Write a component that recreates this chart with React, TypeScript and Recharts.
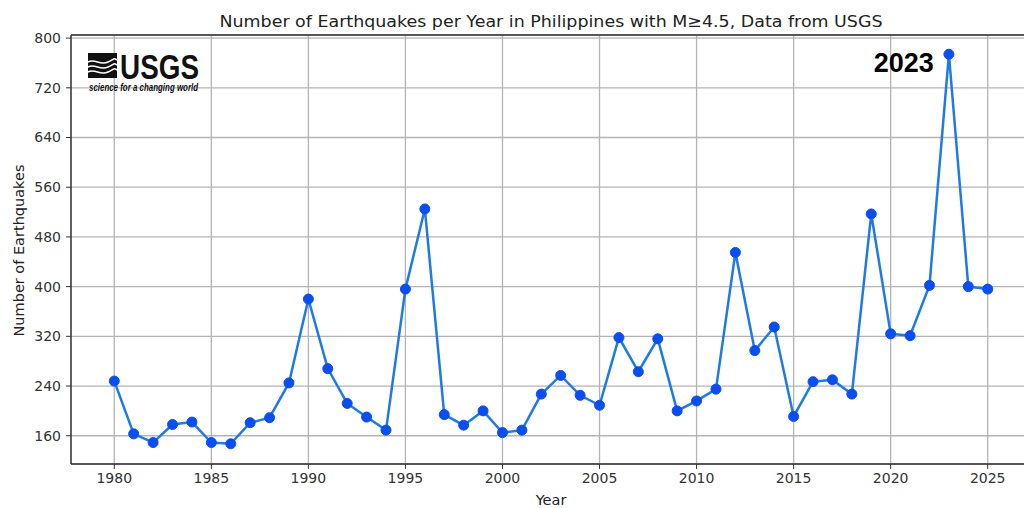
import React from 'react';
import { LineChart, Line, XAxis, YAxis, CartesianGrid, ReferenceLine, LabelList, Label } from 'recharts';

const years = [
  1980, 1981, 1982, 1983, 1984, 1985, 1986, 1987, 1988, 1989,
  1990, 1991, 1992, 1993, 1994, 1995, 1996, 1997, 1998, 1999,
  2000, 2001, 2002, 2003, 2004, 2005, 2006, 2007, 2008, 2009,
  2010, 2011, 2012, 2013, 2014, 2015, 2016, 2017, 2018, 2019,
  2020, 2021, 2022, 2023, 2024, 2025,
];
const counts = [
  248, 163, 149, 178, 182, 149, 147, 181, 189, 245,
  380, 268, 212, 190, 169, 396, 525, 194, 177, 200,
  165, 169, 227, 257, 225, 209, 318, 263, 316, 200,
  216, 235, 455, 297, 335, 191, 247, 250, 227, 517,
  324, 321, 402, 774, 400, 396,
];
const xTicks = [1980, 1985, 1990, 1995, 2000, 2005, 2010, 2015, 2020, 2025];
const yTicks = [160, 240, 320, 400, 480, 560, 640, 720, 800];
const highlightYear = 2023;

const titleText = 'Number of Earthquakes per Year in Philippines with M≥4.5, Data from USGS';
const xLabelText = 'Year';
const yLabelText = 'Number of Earthquakes';

const data = years.map((y, i) => ({ year: y, count: counts[i] }));

const FONT = '"DejaVu Sans", sans-serif';

const XLabel = (props: any) => {
  const vb = props.viewBox || {};
  const cx = vb.x + vb.width / 2;
  return (
    <text x={cx} y={vb.y + 41} textAnchor="middle" fontFamily={FONT} fontSize={14.5} fill="#222">
      {xLabelText}
    </text>
  );
};

const YLabel = (props: any) => {
  const vb = props.viewBox || {};
  const cx = vb.x + 19;
  const cy = vb.y + vb.height / 2 + 1;
  return (
    <text
      x={cx}
      y={cy}
      transform={`rotate(-90 ${cx} ${cy})`}
      textAnchor="middle"
      dominantBaseline="central"
      fontFamily={FONT}
      fontSize={14.5}
      fill="#222"
    >
      {yLabelText}
    </text>
  );
};

const Annot = (props: any) => {
  const { x, y, value } = props;
  if (value !== highlightYear) return null;
  return (
    <text
      x={x - 15}
      y={y + 18}
      textAnchor="end"
      fontFamily='"Liberation Sans", Arial, sans-serif'
      fontWeight="bold"
      fontSize={27}
      fill="#000"
    >
      {String(value)}
    </text>
  );
};

export default function App() {
  return (
    <div
      style={{
        position: 'fixed',
        left: 0,
        top: 0,
        width: 1024,
        height: 508,
        overflow: 'hidden',
        background: '#fff',
      }}
    >
      <LineChart width={1040} height={508} data={data} margin={{ top: 35, right: 9, bottom: 0, left: 0 }}>
        <CartesianGrid stroke="#b4b4b4" strokeWidth={1.3} />
        <XAxis
          dataKey="year"
          type="number"
          domain={[1977.77, 2027.23]}
          ticks={xTicks}
          allowDataOverflow
          height={44}
          tickSize={5}
          tickMargin={4}
          tick={{ fill: '#333', fontSize: 14, fontFamily: FONT }}
          axisLine={{ stroke: '#333', strokeWidth: 1.4 }}
          tickLine={{ stroke: '#333', strokeWidth: 1 }}
          label={<Label content={XLabel} />}
        />
        <YAxis
          type="number"
          domain={[114.5, 805]}
          ticks={yTicks}
          allowDataOverflow
          width={71}
          tickSize={5}
          tickMargin={5}
          tick={{ fill: '#333', fontSize: 14, fontFamily: FONT }}
          axisLine={{ stroke: '#333', strokeWidth: 1.4 }}
          tickLine={{ stroke: '#333', strokeWidth: 1 }}
          label={<Label content={YLabel} />}
        />
        <ReferenceLine y={805} stroke="#333" strokeWidth={1.4} />
        <Line
          dataKey="count"
          stroke="#1f7ae6"
          strokeWidth={2.5}
          dot={{ r: 5, fill: '#0a4ef0', stroke: '#0a4ef0', strokeWidth: 1 }}
          activeDot={false}
          isAnimationActive={false}
        >
          <LabelList dataKey="year" content={Annot} />
        </Line>
      </LineChart>
      <svg
        width={1024}
        height={508}
        style={{ position: 'absolute', left: 0, top: 0, pointerEvents: 'none' }}
      >
        <text
          x={551}
          y={26.5}
          textAnchor="middle"
          textLength={663}
          lengthAdjust="spacingAndGlyphs"
          fontFamily={FONT}
          fontSize={16.5}
          fill="#222"
        >
          {titleText}
        </text>
        <g>
          <rect x={88} y={53} width={29} height={25} fill="#111" />
          <path d="M88 62 C95 58, 100 66, 108 62 S 114 58, 117 60" stroke="#fff" strokeWidth={1.6} fill="none" />
          <path d="M88 67 C95 63, 100 71, 108 67 S 114 63, 117 65" stroke="#fff" strokeWidth={1.6} fill="none" />
          <path d="M88 72 C95 68, 100 76, 108 72 S 114 68, 117 70" stroke="#fff" strokeWidth={1.6} fill="none" />
          <text
            x={120}
            y={78.5}
            textLength={79}
            lengthAdjust="spacingAndGlyphs"
            fontFamily='"Liberation Sans", Arial, sans-serif'
            fontWeight="bold"
            fontSize={35}
            fill="#111"
          >
            USGS
          </text>
          <text
            x={89}
            y={90.5}
            textLength={109}
            lengthAdjust="spacingAndGlyphs"
            fontFamily='"Liberation Sans", Arial, sans-serif'
            fontWeight="bold"
            fontStyle="italic"
            fontSize={10}
            fill="#111"
          >
            science for a changing world
          </text>
        </g>
      </svg>
    </div>
  );
}
